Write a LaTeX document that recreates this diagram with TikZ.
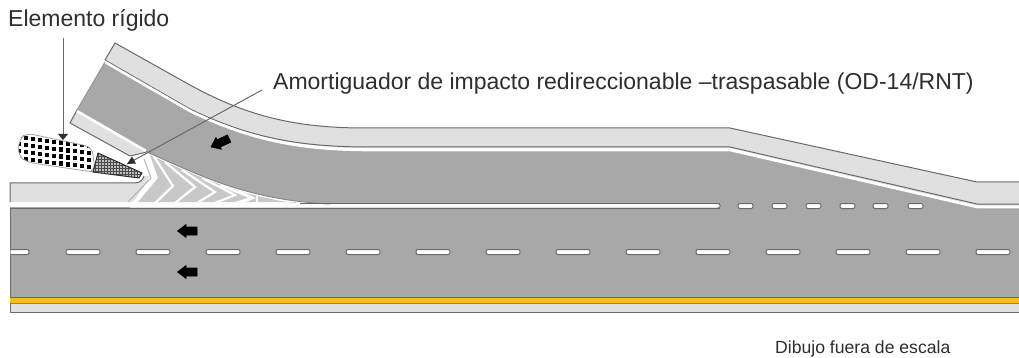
\documentclass[tikz,border=0pt]{standalone}
\usepackage{fontspec}
\usetikzlibrary{calc}
\setmainfont{Liberation Sans}
\definecolor{roadgrey}{RGB}{168,168,168}
\definecolor{shldr}{RGB}{224,224,224}
\definecolor{edgeg}{RGB}{105,105,105}
\definecolor{chev}{RGB}{200,200,200}
\definecolor{ink}{RGB}{45,45,50}
\definecolor{yel}{RGB}{246,188,30}
\definecolor{orng}{RGB}{190,120,40}
\tikzset{
  edgeline/.style={draw=edgeg,line width=1pt,line join=round},
  whiteline/.style={draw=white,line width=2.6pt},
  leader/.style={draw=edgeg,line width=1pt},
  dashmark/.style={fill=white,draw=edgeg,line width=1pt,rounded corners=2pt},
  blockarrow/.style={fill=black,draw=black,line width=.6pt,line join=round},
  txtlabel/.style={anchor=base west,inner sep=0pt,text=ink},
  chevline/.style={draw=white,line width=2.2pt,line join=miter},
}
\begin{document}
\begin{tikzpicture}[x=1pt,y=-1pt]
\useasboundingbox (0,0) rectangle (1019,358);
% main carriageway
\fill[roadgrey] (10,207) rectangle (1019,297);
% ramp pavement
\fill[roadgrey] (77,110)--(105,62)--(190,111) .. controls (250,140) and (300,150) .. (370,150)
  --(730,150)--(977,207)--(1019,207)--(1019,212)--(300,212)--(300,204)--(330,204)
  .. controls (250,200) and (205,178) .. (147,152)--cycle;
% upper shoulder
\path[fill=shldr] (115,43)--(190,85) .. controls (250,118) and (300,128) .. (365,128)
  --(730,128)--(977,182)--(1019,182)--(1019,206)--(977,206)--(730,148)--(370,148)
  .. controls (300,148) and (250,138) .. (190,109)--(105,60)--cycle;
\draw[edgeline] (105,60)--(115,43)--(190,85) .. controls (250,118) and (300,128) .. (365,128)
  --(730,128)--(977,182)--(1019,182);
\draw[edgeline] (105,60)--(190,109) .. controls (250,138) and (300,147) .. (370,147)
  --(730,147)--(977,204)--(1019,204);
\draw[whiteline] (105,62)--(190,111) .. controls (250,140) and (300,150) .. (370,150)
  --(730,150)--(977,207)--(1019,207);
\draw[edgeline,draw=edgeg!70] (105,62)--(77,110);
% lower shoulder of the ramp
\path[fill=shldr,edgeline] (77,110)--(70,123)--(130,156)--(147,152)--cycle;
\draw[whiteline] (77,111)--(146,151);
% left shoulder
\path[fill=shldr] (10,183)--(134,183) .. controls (140,183) and (143,180) .. (144,176)--(150,176)--(134,202)--(10,202)--cycle;
\draw[edgeline] (10,202)--(10,183)--(134,183) .. controls (140,183) and (143,180) .. (144,176);
% chevron area
\path[fill=white] (130,205)--(155,178)--(146,152) .. controls (205,178) and (250,200) .. (330,204)--(720,204)--(720,207.5)--(130,207.5)--cycle;
\begin{scope}
\clip (138,202)--(158,178)--(150,155) .. controls (205,180) and (250,198) .. (296,203)--(296,202)--cycle;
\fill[chev] (130,150) rectangle (300,204);
\foreach \ta/\tb/\tc/\td/\te/\tf in {
  153/155/173/186/155/203,
  165/162/195/187/175/203,
  182/170/215/192/197/203,
  202/178/235/195/215/203,
  220/185/252/198/235/203,
  238/190/253/198/240/203}
  \draw[chevline] (\ta,\tb)--(\tc,\td)--(\te,\tf);
\draw[chevline] (257,190)--(257,205);
\end{scope}
\draw[chevline] (147,153)--(156,178)--(133,203);
\draw[draw=shldr!80!black,line width=1pt] (144,159)--(151,178)--(128,202);
% ramp lower edge
\draw[edgeline,draw=edgeg!80] (147,152) .. controls (205,178) and (250,200) .. (330,204);
% carriageway top and edge line
\draw[edgeline] (10,208)--(720,208);
\draw[edgeline] (10,208)--(10,312)--(1019,312);
\draw[edgeline] (300,203.5)--(720,203.5);
\fill[white] (132,204.5) rectangle (717,207);
\draw[edgeline,rounded corners=1.5pt] (717,203.5) -- (720,203.5) -- (720,208)-- (717,208);
% lane edge
\fill[yel] (10,297.5) rectangle (1019,302.5);
\fill[orng] (10,302.5) rectangle (1019,304);
\draw[draw=edgeg,line width=.8pt] (10,297)--(1019,297);
\fill[shldr] (10.5,304) rectangle (1019,311.5);
% broken line on the ramp edge
\foreach \a in {738,772,806,840,873,908}
  \draw[dashmark] (\a,203.5) rectangle (\a+15,208.5);
% centre line
\draw[dashmark] (10.5,249.5) -- (29,249.5) -- (29,254.5) -- (10.5,254.5);
\foreach \a in {66,136,206,276,346,416,486,556,626,696,766,836,906,976}
  \draw[dashmark] (\a,249.5) rectangle (\a+34,254.5);
% direction arrows
\foreach \yy in {231,272}
  \draw[blockarrow] (177.5,\yy)--(186,\yy-6.5)--(186,\yy-4)--(197,\yy-4)--(197,\yy+4)--(186,\yy+4)--(186,\yy+6.5)--cycle;
\begin{scope}[shift={(211,147)},rotate=25]
  \draw[blockarrow] (0,0)--(8.5,-6.5)--(8.5,-4)--(20,-4)--(20,4)--(8.5,4)--(8.5,6.5)--cycle;
\end{scope}
% rigid element
\begin{scope}
\path[clip,rounded corners=7pt] (19,140)--(26,133)--(92,147)--(95,172)--(86,171)--(26,162)--(18,155)--cycle;
\fill[white] (10,125) rectangle (100,180);
\foreach \i in {-1,...,12} \foreach \j in {-2,...,5}
  \fill[black] ($(24,136)+(7.0*\i,7.0*\j)+(0,0.9*\i)$) rectangle +(4.2,4.2);
\end{scope}
\draw[draw=edgeg!60,line width=.8pt,rounded corners=7pt] (19,140)--(26,133)--(92,147)--(95,172)--(86,171)--(26,162)--(18,155)--cycle;
% transition wedge
\begin{scope}
\clip (98,153)--(142,173)--(139,178)--(93,172)--cycle;
\fill[white!75!black] (90,150) rectangle (145,180);
\foreach \i in {0,...,17} \draw[black!70,line width=.5pt] (92+3*\i,150)--(92+3*\i,180);
\foreach \i in {0,...,10} \draw[black!70,line width=.5pt] (90,150+3*\i)--(145,150+3*\i);
\end{scope}
\draw[draw=ink,line width=1pt,line join=round] (98,153)--(142,173)--(139,178)--(93,172)--cycle;
% labels
\node[txtlabel,font=\fontsize{23}{26}\selectfont] (elem) at (8,27) {Elemento rígido};
\node[txtlabel,font=\fontsize{23}{26}\selectfont] (amort) at (273,90) {Amortiguador de impacto redireccionable –traspasable (OD-14/RNT)};
\node[txtlabel,font=\fontsize{17.6}{20}\selectfont] (nota) at (775,353) {Dibujo fuera de escala};
% leaders
\coordinate (elemstart) at (63,38);
\coordinate (elemtip) at (63,137);
\coordinate (amortstart) at (262,90);
\coordinate (amorttip) at (127,164);
\draw[leader] (elemstart)--(elemtip);
\fill[ink] (elemtip)+(-5,-3)--+(5,-3)--+(0,3)--cycle;
\draw[leader] (amortstart)--(amorttip);
\fill[ink] (amorttip)+(5,-7.5)--+(9,-.5)--+(0,0)--cycle;
\end{tikzpicture}
\end{document}
